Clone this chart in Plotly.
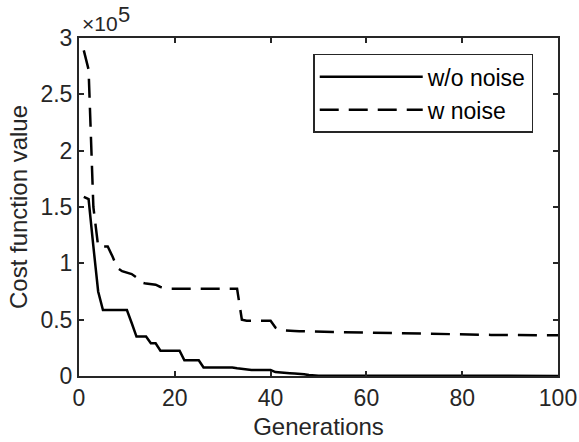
import plotly.graph_objects as go

generations = list(range(1, 101))

# Cost values in units of 1e5
cost_wo_noise_e5 = [
    1.59, 1.57, 1.15, 0.75, 0.585, 0.585, 0.585, 0.585, 0.585, 0.585,
    0.47, 0.35, 0.35, 0.35, 0.29, 0.29, 0.225, 0.225, 0.225, 0.225,
    0.225, 0.14, 0.14, 0.14, 0.14, 0.075, 0.075, 0.075, 0.075, 0.075,
    0.075, 0.075, 0.068, 0.062, 0.055, 0.053, 0.053, 0.053, 0.053, 0.053,
    0.035, 0.03, 0.027, 0.025, 0.022, 0.02, 0.015, 0.008, 0.004, 0.003,
    0.003, 0.003, 0.003, 0.003, 0.003, 0.003, 0.003, 0.003, 0.003, 0.003,
    0.0025, 0.0025, 0.0025, 0.0025, 0.0025, 0.0025, 0.0025, 0.0025, 0.0025, 0.0025,
    0.002, 0.002, 0.002, 0.002, 0.002, 0.002, 0.002, 0.002, 0.002, 0.002,
    0.0015, 0.0015, 0.0015, 0.0015, 0.0015, 0.0015, 0.0015, 0.0015, 0.0015, 0.0015,
    0.001, 0.001, 0.001, 0.001, 0.001, 0.001, 0.001, 0.001, 0.001, 0.001,
]

cost_w_noise_e5 = [
    2.89, 2.72, 1.5, 1.15, 1.15, 1.15, 1.06, 0.96, 0.93, 0.92,
    0.905, 0.875, 0.83, 0.82, 0.815, 0.81, 0.79, 0.78, 0.775, 0.775,
    0.775, 0.775, 0.775, 0.775, 0.775, 0.775, 0.775, 0.775, 0.775, 0.775,
    0.775, 0.775, 0.775, 0.50, 0.49, 0.49, 0.49, 0.49, 0.49, 0.49,
    0.43, 0.41, 0.405, 0.40, 0.40, 0.398, 0.396, 0.395, 0.394, 0.393,
    0.392, 0.391, 0.39, 0.39, 0.389, 0.388, 0.387, 0.386, 0.385, 0.384,
    0.383, 0.382, 0.381, 0.38, 0.379, 0.378, 0.377, 0.376, 0.375, 0.374,
    0.373, 0.372, 0.371, 0.37, 0.37, 0.369, 0.369, 0.368, 0.368, 0.367,
    0.367, 0.366, 0.366, 0.366, 0.365, 0.365, 0.365, 0.364, 0.364, 0.364,
    0.364, 0.363, 0.363, 0.363, 0.363, 0.362, 0.362, 0.362, 0.362, 0.362,
]

SCALE = 1e5
cost_wo_noise = [v * SCALE for v in cost_wo_noise_e5]
cost_w_noise = [v * SCALE for v in cost_w_noise_e5]

x_ticks = [0, 20, 40, 60, 80, 100]
y_tick_vals = [0, 0.5e5, 1e5, 1.5e5, 2e5, 2.5e5, 3e5]
y_tick_text = ["0", "0.5", "1", "1.5", "2", "2.5", "3"]

INK = "#262626"
FONT = "Liberation Sans, Arial, Helvetica, sans-serif"

fig = go.Figure()
fig.add_trace(go.Scatter(
    x=generations, y=cost_wo_noise, mode="lines", name="w/o noise",
    line=dict(color="black", width=2.5),
))
fig.add_trace(go.Scatter(
    x=generations, y=cost_w_noise, mode="lines", name="w noise",
    line=dict(color="black", width=2.5, dash="19px,10px"),
))

axis_common = dict(
    showline=True, linecolor=INK, linewidth=2, mirror="ticks",
    ticks="inside", ticklen=5, tickwidth=2, tickcolor=INK,
    showgrid=False, zeroline=False,
    tickfont=dict(family=FONT, size=23, color=INK),
)

fig.update_layout(
    width=579, height=442,
    margin=dict(l=79, r=21, t=38, b=66, autoexpand=False),
    paper_bgcolor="white", plot_bgcolor="white",
    font=dict(family=FONT, color=INK),
    showlegend=True,
    legend=dict(
        x=0.489, y=0.953, xanchor="left", yanchor="top",
        bgcolor="white", bordercolor=INK, borderwidth=1.5,
        font=dict(family=FONT, size=23, color="black"),
        itemwidth=103,
        tracegroupgap=0,
    ),
    xaxis=dict(
        range=[0, 100], tickvals=x_ticks,
        title=dict(text="Generations", font=dict(family=FONT, size=24, color=INK), standoff=9),
        **axis_common,
    ),
    yaxis=dict(
        range=[0, 3e5], tickvals=y_tick_vals, ticktext=y_tick_text,
        title=dict(text="Cost function value", font=dict(family=FONT, size=24, color=INK), standoff=6),
        **axis_common,
    ),
    annotations=[
        dict(
            text="×10", xref="paper", yref="paper", x=0.0, y=1.0,
            xanchor="left", yanchor="bottom", showarrow=False,
            font=dict(family=FONT, size=21, color=INK), xshift=1, yshift=1,
        ),
        dict(
            text="5", xref="paper", yref="paper", x=0.0, y=1.0,
            xanchor="left", yanchor="bottom", showarrow=False,
            font=dict(family=FONT, size=22, color=INK), xshift=37, yshift=9,
        ),
    ],
)

fig.write_html(
    "out.html",
    config={"displayModeBar": False},
    post_script="document.body.style.margin='0';",
)
